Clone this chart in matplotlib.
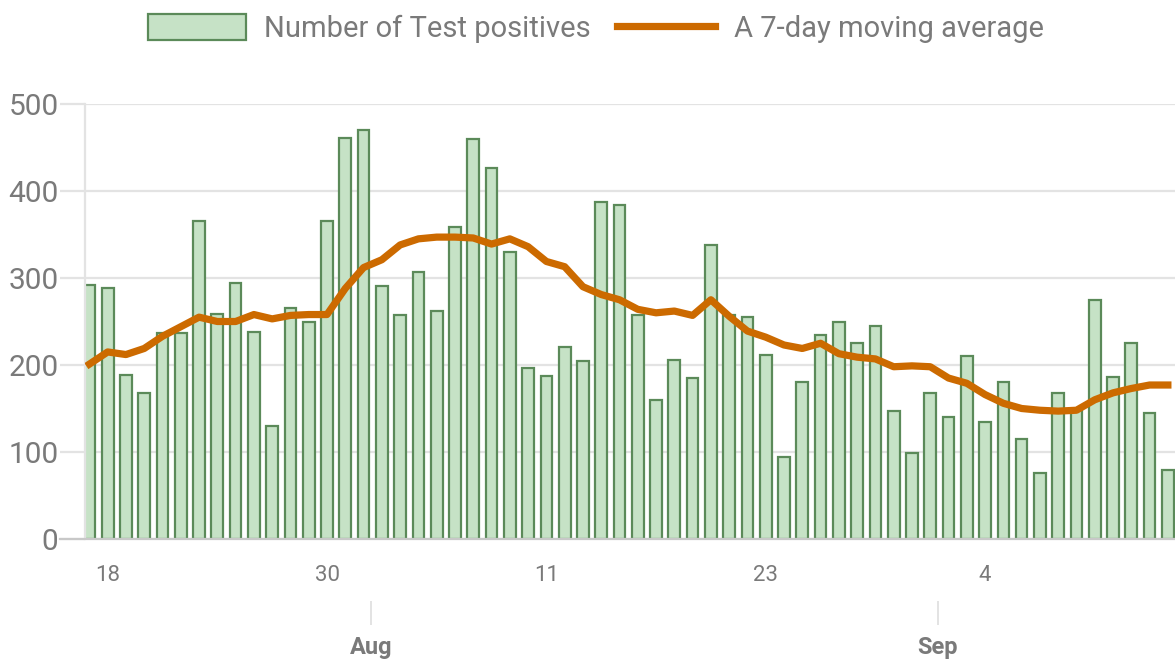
import matplotlib
matplotlib.use("Agg")
import matplotlib.pyplot as plt
import numpy as np
import pandas as pd

# daily positives, 2020-07-17 .. 2020-09-14
dates = pd.date_range("2020-07-17", periods=60, freq="D")
positives = [292, 289, 188, 168, 237, 237, 365, 259, 294, 238,
             130, 265, 249, 366, 461, 470, 291, 257, 307, 262,
             359, 460, 427, 330, 196, 187, 221, 205, 387, 384,
             258, 160, 206, 185, 338, 257, 255, 211, 94, 181,
             235, 249, 225, 245, 147, 99, 168, 140, 210, 135,
             180, 115, 76, 168, 148, 275, 186, 225, 145, 79]
moving_avg = [201, 215, 212, 219, 233, 244, 255, 250, 250, 258,
              253, 257, 258, 258, 288, 312, 321, 338, 345, 347,
              347, 346, 339, 345, 336, 319, 313, 290, 281, 275,
              264, 260, 262, 257, 275, 256, 239, 232, 223, 219,
              225, 213, 209, 207, 198, 199, 198, 185, 179, 166,
              156, 150, 148, 147, 148, 160, 168, 173, 177, 177]
day_ticks = ["2020-07-18", "2020-07-30", "2020-08-11", "2020-08-23", "2020-09-04"]
month_ticks = ["2020-08-01", "2020-09-01"]

plt.rcParams['font.family'] = ['Roboto', 'DejaVu Sans']
text_gray = '#7a7a7a'
grid_gray = '#e3e3e3'

x = np.arange(len(dates))

def pos(d):
    return float((pd.Timestamp(d) - dates[0]).days)

fig = plt.figure(figsize=(11.75, 6.64), dpi=100, facecolor='w')
ax = fig.add_axes([85 / 1175, 125 / 664, 1 - 85 / 1175, 435 / 664])

bars = ax.bar(x, positives, width=0.64, color='#c6e2c6', edgecolor='#5b8a59',
              linewidth=1.6, label='Number of Test positives', zorder=2)
line, = ax.plot(x, moving_avg, color='#cc6a00', lw=5.2, solid_joinstyle='round',
                label='A 7-day moving average', zorder=3)

ax.set_xlim(-0.24, 59.39)
ax.set_ylim(0, 500)
ax.set_yticks(range(0, 501, 100))
ax.grid(True, axis='y', color=grid_gray, lw=1.6, zorder=0)
ax.tick_params(axis='y', length=18, width=1.6, color=grid_gray, pad=1,
               labelsize=21.5, labelcolor=text_gray)

ax.set_xticks([pos(d) for d in day_ticks])
ax.set_xticklabels([str(pd.Timestamp(d).day) for d in day_ticks])
ax.tick_params(axis='x', length=0, pad=19, labelsize=16, labelcolor=text_gray)

for spine in ('top', 'right', 'bottom'):
    ax.spines[spine].set_visible(False)
ax.spines['left'].set_color(grid_gray)
ax.spines['left'].set_linewidth(1.6)
ax.axhline(0, color='#c8c8c8', lw=1.6, zorder=4, xmin=-25 / 1090, clip_on=False)

# month row below the day labels
sec = ax.secondary_xaxis(-62 / 435)
sec.set_xticks([pos(d) + 0.4 for d in month_ticks])
sec.set_xticklabels([pd.Timestamp(d).strftime('%b') for d in month_ticks],
                    fontweight='bold')
sec.tick_params(length=17, width=1.4, color=grid_gray, pad=8, labelsize=17,
                labelcolor=text_gray)
sec.spines['bottom'].set_visible(False)

legend = fig.legend(handles=[bars, line], loc='upper center', bbox_to_anchor=(0.507, 1.018),
                    ncol=2, frameon=False, fontsize=21, handlelength=3.36,
                    handleheight=1.0, handletextpad=0.62, columnspacing=0.92)
for t in legend.get_texts():
    t.set_color(text_gray)

plt.savefig('out.png', dpi=100)
